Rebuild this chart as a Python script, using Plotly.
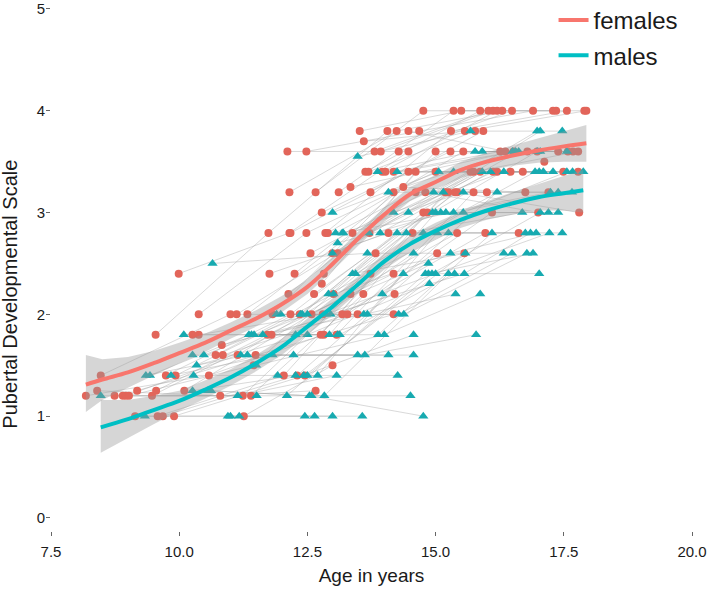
import plotly.graph_objects as go

# ---------------- data: females (points grouped by subject) ----------------
female_waves = [3, 3, 3, 3, 3, 3, 3, 3, 3, 3, 3, 3, 3, 3, 3, 3, 3, 3, 3, 3,
                3, 3, 3, 3, 3, 3, 3, 3, 3, 3, 3, 3, 3, 3, 3, 3, 3, 3, 3, 3,
                3, 3, 3, 3, 3, 3, 3, 3,
                2, 2, 2, 2, 2, 2, 2, 2, 2, 2, 2,
                1, 1, 1, 1]
female_age = [8.18, 10.58, 12.82, 8.4, 10.8, 12.66, 8.47, 11.0, 13.48, 8.74, 11.24, 13.34,
              8.9, 11.4, 13.59, 8.96, 11.14, 13.73, 9.02, 11.45, 13.83, 9.14, 11.26, 12.99,
              9.18, 11.49, 14.18, 9.47, 11.8, 14.2, 9.54, 11.74, 14.06, 9.55, 11.72, 14.18,
              9.58, 12.04, 14.55, 9.68, 12.3, 15.03, 9.74, 12.17, 14.76, 9.9, 12.45, 15.56,
              9.93, 12.35, 14.84, 9.99, 12.15, 14.47, 10.1, 12.58, 15.42, 10.26, 12.76, 15.19,
              10.38, 12.8, 15.25, 10.38, 12.48, 15.0, 10.71, 13.01, 15.38, 10.83, 13.18, 15.97,
              10.85, 13.28, 16.1, 11.12, 13.71, 16.12, 11.33, 13.38, 15.87, 11.76, 14.08, 16.62,
              11.82, 14.18, 16.0, 12.11, 14.28, 16.49, 12.13, 14.61, 17.2, 12.15, 14.24, 16.3,
              12.17, 14.47, 16.7, 12.25, 14.37, 16.75, 12.48, 14.68, 16.9, 12.56, 14.8, 17.0,
              12.63, 15.42, 17.8, 12.66, 14.76, 17.29, 12.78, 15.29, 17.39, 12.78, 14.61, 17.49,
              12.82, 15.0, 17.58, 12.85, 15.3, 17.56, 12.9, 15.54, 17.68, 12.99, 15.68, 17.78,
              13.09, 15.74, 17.78, 13.11, 15.35, 17.35, 13.52, 15.5, 17.9, 13.6, 15.57, 17.94,
              13.63, 15.87, 13.69, 15.77, 13.73, 15.93, 13.81, 16.03, 13.93, 16.12, 13.96, 16.2,
              14.02, 16.2, 14.18, 16.26, 14.47, 16.36, 13.34, 16.52, 13.07, 15.74,
              16.46, 16.79, 16.98, 17.12]
female_pds = [1.2, 1.4, 1.8, 1.25, 1.2, 1.25, 1.4, 2.0, 2.0, 1.2, 1.2, 2.2,
              1.2, 1.2, 2.2, 1.2, 1.6, 2.4, 1.2, 1.5, 2.6, 1.0, 1.0, 1.5,
              1.25, 1.6, 2.0, 1.2, 1.8, 2.2, 1.8, 2.8, 3.8, 1.25, 1.8, 2.4,
              1.0, 1.4, 2.8, 1.0, 1.4, 2.6, 1.4, 2.0, 3.0, 1.0, 1.4, 2.6,
              1.4, 2.0, 3.0, 2.4, 2.8, 3.6, 1.25, 2.0, 2.8, 1.8, 1.8, 3.2,
              1.8, 2.0, 3.2, 2.0, 2.8, 3.4, 1.6, 2.2, 3.2, 1.7, 2.0, 2.8,
              1.6, 2.0, 3.0, 2.0, 2.8, 3.4, 2.0, 2.8, 3.4, 2.4, 2.8, 2.8,
              2.0, 3.2, 3.2, 3.6, 3.6, 4.0, 2.2, 3.2, 3.2, 3.2, 3.8, 4.0,
              2.8, 3.4, 3.4, 2.4, 3.25, 3.2, 3.6, 3.8, 4.0, 2.6, 3.2, 3.0,
              2.2, 3.2, 3.0, 3.2, 4.0, 4.0, 3.0, 3.6, 3.6, 2.3, 3.4, 3.4,
              2.4, 3.6, 3.6, 2.8, 3.8, 4.0, 2.8, 3.6, 3.6, 2.6, 3.4, 3.4,
              2.6, 3.4, 3.6, 3.2, 4.0, 4.0, 3.8, 4.0, 4.0, 3.7, 3.8, 4.0,
              3.4, 4.0, 3.4, 3.8, 3.2, 3.8, 3.6, 4.0, 3.6, 4.0, 3.4, 4.0,
              3.4, 3.4, 3.4, 3.6, 3.8, 3.6, 3.25, 3.6, 1.8, 3.2,
              3.4, 3.6, 3.6, 3.5]

# ---------------- data: males (points grouped by subject) ----------------
male_waves = [3, 3, 3, 3, 3, 3, 3, 3, 3, 3, 3, 3, 3, 3, 2,
              3, 3, 3, 3, 3, 3, 3, 3, 3, 3, 3, 3, 3, 2,
              3, 3, 3, 3, 3, 3, 3, 3, 3, 3, 3, 3, 2, 3, 3, 2, 3, 3, 3,
              2, 2, 2, 2, 2, 2, 2, 2, 2, 2, 1]
male_age = [8.47, 11.14, 13.07, 9.33, 11.0, 12.99, 9.35, 11.33, 13.48, 9.43, 11.36, 13.09,
            9.84, 11.82, 14.08, 10.09, 12.27, 14.57, 10.26, 12.23, 14.57, 10.26, 12.27, 14.26,
            10.28, 12.43, 14.57, 10.34, 12.5, 14.88, 10.48, 12.5, 14.86, 10.56, 12.54, 14.76,
            10.62, 12.58, 14.51, 10.65, 13.67, 16.33, 10.95, 12.64,
            11.17, 12.45, 13.57, 11.2, 13.62, 15.79, 11.41, 13.13, 15.37, 11.46, 13.88, 16.1,
            11.5, 14.0, 15.87, 11.51, 12.83, 15.25, 11.63, 13.6, 15.39, 11.9, 14.28, 16.49,
            11.92, 12.7, 14.37, 11.98, 14.38, 16.78, 12.1, 14.8, 17.02, 12.37, 14.43, 16.69,
            12.4, 14.25, 16.75, 14.86, 16.9,
            12.5, 14.93, 17.04, 12.86, 15.0, 17.22, 12.91, 15.25, 17.47, 12.93, 15.0, 17.39,
            12.95, 15.56, 16.85, 12.99, 15.06, 17.1, 12.99, 15.1, 17.2, 13.01, 15.29, 16.96,
            13.05, 15.35, 17.29, 13.09, 15.2, 17.24, 13.18, 15.35, 17.39, 13.2, 15.54, 17.66,
            13.38, 15.58, 13.44, 15.54, 17.56, 13.48, 15.68, 17.47, 13.67, 15.03,
            13.69, 15.91, 17.67, 13.87, 15.77, 17.56, 13.92, 16.07, 17.88,
            13.96, 16.2, 14.08, 16.5, 14.18, 16.33, 14.25, 16.56, 14.47, 16.62,
            14.76, 16.94, 14.94, 16.98, 14.96, 16.98, 15.15, 17.04, 15.91, 17.04, 17.02]
male_pds = [1.2, 1.2, 1.4, 1.0, 1.0, 1.0, 1.4, 1.6, 1.6, 1.4, 1.8, 1.8,
            1.4, 1.6, 1.6, 1.8, 1.8, 2.6, 1.6, 1.6, 1.6, 1.25, 1.4, 1.4,
            1.4, 1.4, 1.8, 1.5, 1.8, 2.3, 1.6, 2.0, 2.5, 1.25, 1.2, 1.0,
            1.25, 1.2, 1.2, 2.5, 2.6, 2.6, 1.0, 1.0,
            1.0, 1.0, 1.0, 1.6, 1.6, 1.8, 1.8, 1.8, 2.4, 1.8, 1.8, 2.8,
            1.5, 1.8, 2.2, 1.2, 1.2, 2.4, 1.8, 2.0, 2.2, 2.0, 2.0, 2.6,
            1.4, 1.4, 2.4, 2.0, 2.0, 2.6, 1.2, 2.4, 2.4, 2.0, 2.8, 3.0,
            2.0, 2.8, 2.8, 2.4, 2.6,
            1.4, 2.4, 3.0, 2.0, 2.4, 2.8, 2.2, 2.8, 2.8, 1.8, 3.0, 3.0,
            2.0, 2.4, 2.8, 3.0, 3.4, 3.4, 2.6, 3.0, 3.0, 2.2, 2.6, 2.8,
            2.8, 3.4, 3.4, 2.7, 3.0, 3.2, 2.8, 3.0, 3.2, 2.8, 3.2, 3.2,
            2.4, 2.6, 2.4, 3.0, 3.4, 3.55, 3.8, 3.8, 2.0, 2.8,
            2.8, 3.4, 3.4, 3.4, 3.6, 3.6, 2.8, 3.4, 3.4,
            2.2, 3.2, 3.2, 3.6, 3.0, 3.4, 3.4, 3.6, 3.0, 3.6,
            2.8, 3.4, 3.0, 3.6, 3.2, 3.8, 3.2, 3.8, 3.6, 3.6, 3.4]

# ---------------- smoothed trends with confidence bands ----------------
female_fit_age = [8.18, 8.5, 9.0, 9.5, 10.0, 10.5, 11.0, 11.5, 12.0, 12.5, 13.0, 13.5,
                  14.0, 14.5, 15.0, 15.5, 16.0, 16.5, 17.0, 17.5, 17.94]
female_fit = [1.31, 1.36, 1.43, 1.52, 1.62, 1.72, 1.84, 1.96, 2.1, 2.27, 2.5, 2.75,
              2.98, 3.18, 3.3, 3.42, 3.5, 3.56, 3.61, 3.65, 3.68]
female_lo = [1.04, 1.16, 1.28, 1.40, 1.52, 1.63, 1.76, 1.88, 2.02, 2.2, 2.43, 2.68,
             2.91, 3.11, 3.23, 3.34, 3.41, 3.46, 3.49, 3.5, 3.5]
female_hi = [1.6, 1.56, 1.58, 1.64, 1.72, 1.81, 1.92, 2.04, 2.18, 2.34, 2.57, 2.82,
             3.05, 3.25, 3.37, 3.5, 3.59, 3.66, 3.73, 3.8, 3.86]

male_fit_age = [8.47, 9.0, 9.5, 10.0, 10.5, 11.0, 11.5, 12.0, 12.5, 13.0, 13.5,
                14.0, 14.5, 15.0, 15.5, 16.0, 16.5, 17.0, 17.5, 17.88]
male_fit = [0.89, 0.97, 1.06, 1.15, 1.26, 1.38, 1.52, 1.68, 1.88, 2.08, 2.3,
            2.52, 2.69, 2.82, 2.93, 3.02, 3.09, 3.15, 3.19, 3.22]
male_lo = [0.64, 0.78, 0.92, 1.05, 1.17, 1.3, 1.44, 1.6, 1.8, 2.0, 2.22,
           2.44, 2.61, 2.74, 2.85, 2.93, 2.98, 3.02, 3.02, 3.0]
male_hi = [1.16, 1.16, 1.2, 1.25, 1.35, 1.46, 1.6, 1.76, 1.96, 2.16, 2.38,
           2.6, 2.77, 2.9, 3.01, 3.11, 3.2, 3.28, 3.36, 3.42]

x_ticks = [7.5, 10.0, 12.5, 15.0, 17.5, 20.0]
x_tick_labels = ["7.5", "10.0", "12.5", "15.0", "17.5", "20.0"]
y_ticks = [0, 1, 2, 3, 4, 5]

RED = "#F8766D"
TEAL = "#00BFC4"
RED_PT = "#E2655A"
TEAL_PT = "#17AAB0"


def subject_paths(waves, ages, vals):
    xs, ys, i = [], [], 0
    for n in waves:
        xs += ages[i:i + n] + [None]
        ys += vals[i:i + n] + [None]
        i += n
    return xs, ys


assert sum(female_waves) == len(female_age) == len(female_pds)
assert sum(male_waves) == len(male_age) == len(male_pds)

fig = go.Figure()

for waves, ages, vals in [(female_waves, female_age, female_pds),
                          (male_waves, male_age, male_pds)]:
    px_, py_ = subject_paths(waves, ages, vals)
    fig.add_trace(go.Scatter(x=px_, y=py_, mode="lines", connectgaps=False,
                             line=dict(color="rgba(160,160,160,0.45)", width=0.9),
                             hoverinfo="skip", showlegend=False))

fig.add_trace(go.Scatter(x=female_age, y=female_pds, mode="markers",
                         marker=dict(symbol="circle", size=8, color=RED_PT),
                         showlegend=False))
fig.add_trace(go.Scatter(x=male_age, y=male_pds, mode="markers",
                         marker=dict(symbol="triangle-up", size=9, color=TEAL_PT),
                         showlegend=False))

for fa, lo, hi in [(female_fit_age, female_lo, female_hi),
                   (male_fit_age, male_lo, male_hi)]:
    fig.add_trace(go.Scatter(x=fa + fa[::-1], y=hi + lo[::-1], mode="lines",
                             fill="toself", fillcolor="rgba(153,153,153,0.4)",
                             line=dict(width=0), hoverinfo="skip", showlegend=False))

fig.add_trace(go.Scatter(x=female_fit_age, y=female_fit, mode="lines", name="females",
                         line=dict(color=RED, width=4, shape="spline"),
                         legendgroup="f"))
fig.add_trace(go.Scatter(x=male_fit_age, y=male_fit, mode="lines", name="males",
                         line=dict(color=TEAL, width=4, shape="spline"),
                         legendgroup="m"))

fig.update_layout(
    width=709, height=590,
    margin=dict(l=51, r=17, t=0, b=59, autoexpand=False),
    plot_bgcolor="white", paper_bgcolor="white",
    font=dict(family="Liberation Sans, Arial, sans-serif", color="#1a1a1a"),
    legend=dict(x=0.784, y=1.004, xanchor="left", yanchor="top",
                font=dict(size=24, color="#1a1a1a"), bgcolor="rgba(0,0,0,0)",
                tracegroupgap=1),
    xaxis=dict(range=[7.5, 20], tickvals=x_ticks, ticktext=x_tick_labels,
               ticks="outside", ticklen=4, tickwidth=1, tickcolor="#666666",
               showgrid=False, zeroline=False, showline=False, automargin=False,
               ticklabelstandoff=3,
               tickfont=dict(size=15, color="#1a1a1a"),
               title=dict(text="Age in years", font=dict(size=19), standoff=9)),
    yaxis=dict(range=[-0.128, 5.088], tickvals=y_ticks,
               ticks="outside", ticklen=4, tickwidth=1, tickcolor="#666666",
               showgrid=False, zeroline=False, showline=False, automargin=False,
               ticklabelstandoff=-2,
               tickfont=dict(size=15, color="#1a1a1a")),
    annotations=[dict(text="Pubertal Developmental Scale", textangle=-90,
                      xref="paper", yref="paper", x=0, y=0.445,
                      xanchor="center", yanchor="middle", xshift=-41,
                      showarrow=False, font=dict(size=20, color="#1a1a1a"))],
)

fig.write_html("out.html", config={"displayModeBar": False},
               post_script="document.body.style.margin='0px';")
